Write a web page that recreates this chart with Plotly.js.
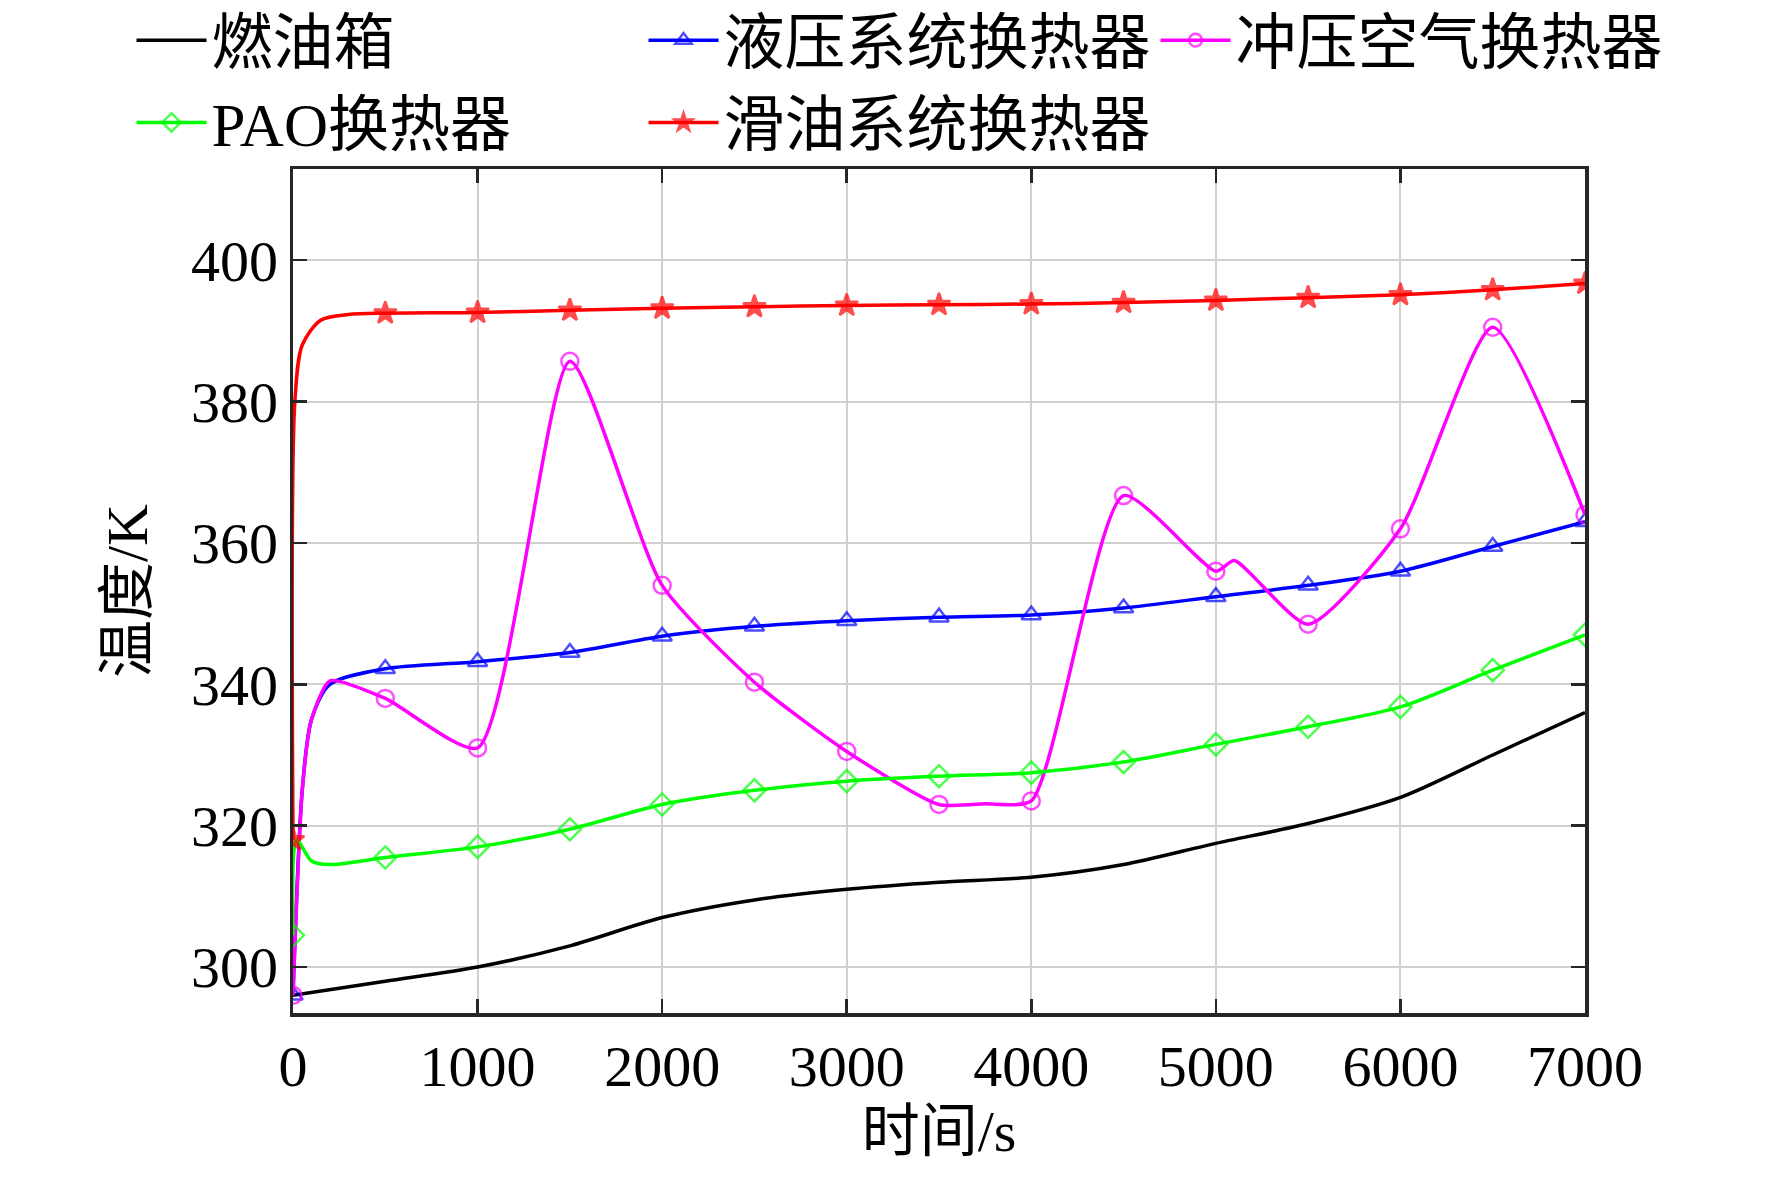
<!DOCTYPE html>
<html><head><meta charset="utf-8"><script src="https://cdn.plot.ly/plotly-3.0.1.min.js"></script>
<style>body{margin:0}</style></head><body><div id="c" style="width:1772px;height:1193px"></div>
<script>
const names=['燃油箱','液压系统换热器','冲压空气换热器','PAO换热器','滑油系统换热器'];
const fuelX=[0,500,1000,1500,2000,2500,3000,3500,4000,4500,5000,5500,6000,6500,7000];
const fuelY=[296,298,300,303,307,309.5,311,312,312.7,314.5,317.5,320.3,324,330,336];
const hydX=[0,50,100,200,500,1000,1500,2000,2500,3000,3500,4000,4500,5000,5500,6000,6500,7000];
const hydY=[296,325,335,340,342.2,343.2,344.5,346.8,348.2,349,349.5,349.8,350.8,352.4,354,356,359.5,363];
const ramX=[0,50,100,200,500,1000,1500,2000,2500,3000,3500,3750,4000,4500,5000,5100,5500,6000,6500,7000];
const ramY=[296,325,335,340.5,338,331,385.7,354,340.3,330.5,323,323.1,323.5,366.7,356,357.5,348.5,362,390.5,364];
const paoX=[0,20,100,200,500,1000,1500,2000,2500,3000,3500,4000,4500,5000,5500,6000,6500,7000];
const paoY=[304.5,318,315,314.5,315.5,317,319.5,323,325,326.3,327,327.5,329,331.5,334,336.8,342,347];
const oilX=[0,10,50,150,300,500,1000,1500,2000,2500,3000,3500,4000,4500,5000,5500,6000,6500,7000];
const oilY=[318,380,388,391.5,392.3,392.5,392.6,392.9,393.2,393.4,393.6,393.7,393.8,394,394.3,394.7,395.1,395.8,396.7];
const ms=x=>x.map(v=>v%500===0?17:0);
function tr(x,y,name,color,sym,sm){
 const t={x:x,y:y,name:name,type:'scatter',mode:sym?'lines+markers':'lines',
 line:{color:color,width:3.5,shape:'spline',smoothing:sm}};
 t.marker=sym?{symbol:sym,size:ms(x),color:color,line:{color:color,width:2.5}}:{size:1,color:color};
 return t;}
const data=[tr(fuelX,fuelY,names[0],'#000000',null,0.8),
 tr(hydX,hydY,names[1],'#0000ff','triangle-up-open',0.8),
 tr(ramX,ramY,names[2],'#ff00ff','circle-open',0.6),
 tr(paoX,paoY,names[3],'#00ff00','diamond-open',0.8),
 tr(oilX,oilY,names[4],'#ff0000','star',0.8)];
const F='Liberation Serif, Noto Sans CJK SC';
function ax(){return {showline:true,linecolor:'#262626',linewidth:3.5,mirror:'ticks',ticks:'inside',ticklen:14,tickwidth:2.5,tickcolor:'#262626',
 showgrid:true,gridcolor:'#d0d0d0',gridwidth:2,zeroline:false,tickfont:{family:F,size:58,color:'#000'}};}
const xa=ax(); xa.range=[0,7000]; xa.dtick=1000; xa.title={text:'时间/s',font:{family:F,size:58,color:'#000'},standoff:8};
const ya=ax(); ya.range=[293.5,412.9]; ya.tickvals=[300,320,340,360,380,400]; ya.title={text:'温度/K',font:{family:F,size:58,color:'#000'},standoff:25};
Plotly.newPlot('c',data,{width:1772,height:1193,paper_bgcolor:'#fff',plot_bgcolor:'#fff',
 margin:{l:293,r:187,t:169,b:180,autoexpand:false},xaxis:xa,yaxis:ya,
 legend:{orientation:'h',x:-0.125,xanchor:'left',y:1.0,yanchor:'bottom',font:{family:F,size:61,color:'#000'},bgcolor:'rgba(0,0,0,0)',itemwidth:70},
 showlegend:true},{staticPlot:true});
</script></body></html>
